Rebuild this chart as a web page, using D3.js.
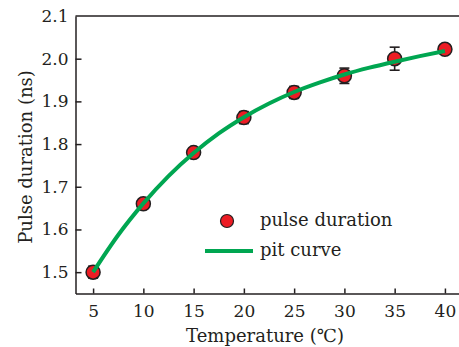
<!DOCTYPE html>
<html><head><meta charset="utf-8">
<script src="https://cdn.jsdelivr.net/npm/d3@7"></script>
<style>html,body{margin:0;padding:0;background:#fff;}svg{display:block;}</style>
</head><body>
<svg id="c" width="459" height="347"></svg>
<script>
const temps = [5, 10, 15, 20, 25, 30, 35, 40];
const pulse = [1.50, 1.66, 1.78, 1.862, 1.921, 1.96, 2.00, 2.022];
const errs = [0.014, 0.01, 0.01, 0.014, 0.014, 0.018, 0.027, 0.01];
const fitX = [5, 7.5, 10, 12.5, 15, 17.5, 20, 22.5, 25, 27.5, 30, 32.5, 35, 37.5, 40];
const fitY = [1.50, 1.587, 1.661, 1.725, 1.779, 1.825, 1.863, 1.895, 1.922, 1.944, 1.963, 1.979, 1.993, 2.006, 2.018];
const xTicks = [5, 10, 15, 20, 25, 30, 35, 40];
const yTicks = [1.5, 1.6, 1.7, 1.8, 1.9, 2.0, 2.1];
const xLabel = "Temperature (℃)";
const yLabel = "Pulse duration (ns)";
const legendLabels = ["pulse duration", "pit curve"];

const svg = d3.select("#c");
const L = 75.5, R = 460, T = 16, B = 293.5;
const x = d3.scaleLinear().domain([3.25, 41.5]).range([L, R]);
const y = d3.scaleLinear().domain([1.45, 2.1]).range([B, T]);
const font = "'DejaVu Serif', serif";
const fs = 17;
const ink = "#231f20";
const green = "#00a651", red = "#ec1c24";

// axes
const xAxis = d3.axisBottom(x).tickValues(xTicks).tickSizeInner(-5).tickSizeOuter(0).tickPadding(11).tickFormat(d3.format("d"));
const gx = svg.append("g").attr("transform", `translate(0,${B})`).call(xAxis);
const yAxis = d3.axisLeft(y).tickValues(yTicks).tickSizeInner(-6).tickSizeOuter(0).tickPadding(7).tickFormat(d3.format(".1f"));
const gy = svg.append("g").attr("transform", `translate(${L},0)`).call(yAxis);
[gx, gy].forEach(g => {
  g.selectAll("path.domain").attr("stroke", ink).attr("stroke-width", 1.5);
  g.selectAll(".tick line").attr("stroke", ink).attr("stroke-width", 1.5);
  g.selectAll(".tick text").attr("font-family", font).attr("font-size", fs).attr("fill", ink);
});
gy.selectAll(".tick").filter(d => d === 2.1).select("line").remove();
svg.append("line").attr("x1", L).attr("x2", R).attr("y1", T).attr("y2", T).attr("stroke", ink).attr("stroke-width", 1.5);

// axis titles
svg.append("text").attr("x", 265).attr("y", 342).attr("text-anchor", "middle")
  .attr("font-family", font).attr("font-size", fs + 1).attr("fill", ink).text(xLabel);
svg.append("text").attr("transform", `translate(32,157) rotate(-90)`).attr("text-anchor", "middle")
  .attr("font-family", font).attr("font-size", fs + 1).attr("fill", ink).text(yLabel);

// error bars
const eb = svg.append("g").attr("stroke", ink).attr("stroke-width", 1.6);
temps.forEach((t, i) => {
  const cx = x(t), y1 = y(pulse[i] + errs[i]), y2 = y(pulse[i] - errs[i]);
  eb.append("line").attr("x1", cx).attr("x2", cx).attr("y1", y1).attr("y2", y2);
  eb.append("line").attr("x1", cx - 5).attr("x2", cx + 5).attr("y1", y1).attr("y2", y1);
  eb.append("line").attr("x1", cx - 5).attr("x2", cx + 5).attr("y1", y2).attr("y2", y2);
});
// markers
svg.append("g").selectAll("circle").data(temps).join("circle")
  .attr("cx", d => x(d)).attr("cy", (d, i) => y(pulse[i])).attr("r", 7)
  .attr("fill", red).attr("stroke", ink).attr("stroke-width", 1.5);

// fit curve (drawn on top of markers as in reference)
const line = d3.line().x(d => x(d[0])).y(d => y(d[1])).curve(d3.curveMonotoneX);
svg.append("path").datum(fitX.map((v, i) => [v, fitY[i]])).attr("d", line)
  .attr("fill", "none").attr("stroke", green).attr("stroke-width", 4);

// legend
const lg = svg.append("g");
lg.append("circle").attr("cx", 227).attr("cy", 221).attr("r", 6.5).attr("fill", red).attr("stroke", ink).attr("stroke-width", 1.2);
lg.append("line").attr("x1", 205).attr("x2", 253).attr("y1", 251).attr("y2", 251).attr("stroke", green).attr("stroke-width", 4);
lg.append("text").attr("x", 260).attr("y", 226).attr("font-family", font).attr("font-size", fs + 1).attr("fill", ink).text(legendLabels[0]);
lg.append("text").attr("x", 260).attr("y", 256).attr("font-family", font).attr("font-size", fs + 1).attr("fill", ink).text(legendLabels[1]);
</script>
</body></html>
